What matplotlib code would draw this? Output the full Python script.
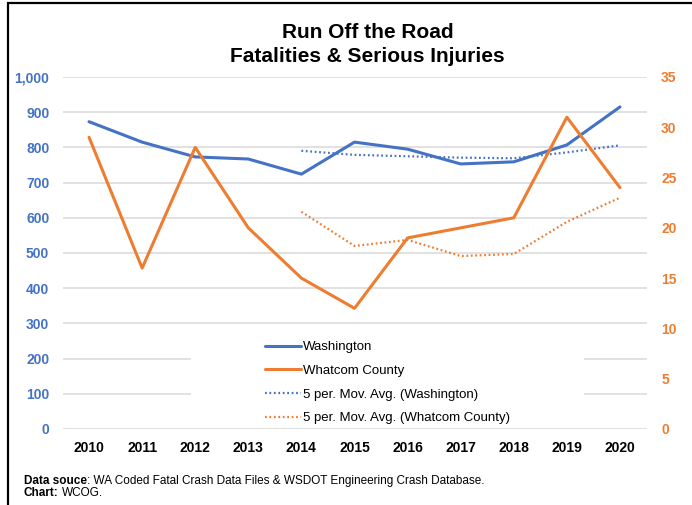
import matplotlib.pyplot as plt
from matplotlib.patches import Rectangle

plt.rcParams['font.family'] = ['Liberation Sans', 'DejaVu Sans']

BLUE = '#4472C4'
ORANGE = '#ED7D31'
GRID = '#D9D9D9'

years = ['2010', '2011', '2012', '2013', '2014', '2015', '2016', '2017', '2018', '2019', '2020']
washington = [873, 815, 773, 767, 724, 815, 795, 753, 759, 807, 915]
whatcom = [29, 16, 28, 20, 15, 12, 19, 20, 21, 31, 24]
# 5 period moving averages, starting at 2014
ma_years = ['2014', '2015', '2016', '2017', '2018', '2019', '2020']
washington_ma = [790.4, 778.8, 774.8, 770.8, 769.2, 785.8, 805.8]
whatcom_ma = [21.6, 18.2, 18.8, 17.2, 17.4, 20.6, 23.0]

left_ticks = [0, 100, 200, 300, 400, 500, 600, 700, 800, 900, 1000]
right_ticks = [0, 5, 10, 15, 20, 25, 30, 35]

fig = plt.figure(figsize=(6.92, 5.05), dpi=100)
ax = fig.add_axes([62.5 / 692, 1 - 429 / 505, 584 / 692, 352 / 505])
ax2 = ax.twinx()

x = list(range(len(years)))
xm = [years.index(y) for y in ma_years]

l1, = ax.plot(x, washington, color=BLUE, lw=2.2, solid_capstyle='round', label='Washington', zorder=3)
l3, = ax.plot(xm, washington_ma, color=BLUE, lw=1.6, linestyle=(0, (0.8, 1.2)), label='5 per. Mov. Avg. (Washington)', zorder=3)
l2, = ax2.plot(x, whatcom, color=ORANGE, lw=2.2, solid_capstyle='round', label='Whatcom County', zorder=3)
l4, = ax2.plot(xm, whatcom_ma, color=ORANGE, lw=1.6, linestyle=(0, (0.8, 1.2)), label='5 per. Mov. Avg. (Whatcom County)', zorder=3)

ax.set_xlim(-0.5, len(years) - 0.5)
ax.set_ylim(0, 1000)
ax2.set_ylim(0, 35)
ax.set_xticks(x)
ax.set_xticklabels(years, fontsize=10, fontweight='bold')
ax.set_yticks(left_ticks)
ax.set_yticklabels(['{:,}'.format(v) for v in left_ticks], fontsize=10, fontweight='bold', color=BLUE)
ax2.set_yticks(right_ticks)
ax2.set_yticklabels([str(v) for v in right_ticks], fontsize=10, fontweight='bold', color=ORANGE)
ax.tick_params(axis='both', length=0)
ax2.tick_params(axis='both', length=0)
ax.tick_params(axis='y', pad=9.5)
ax2.tick_params(axis='y', pad=10.5)
ax.tick_params(axis='x', pad=9)

ax.grid(axis='y', color=GRID, lw=1.1)
ax.set_axisbelow(True)
for a in (ax, ax2):
    for s in a.spines.values():
        s.set_visible(False)

# white legend area covering the gridlines
ax.add_patch(Rectangle((0.22, 0.015), 0.673, 0.24, transform=ax.transAxes,
                       facecolor='white', edgecolor='none', zorder=1.5))

leg = ax2.legend(handles=[l1, l2, l3, l4], loc='upper left', bbox_to_anchor=(0.347, 0.25),
                 frameon=False, fontsize=9.5, handlelength=2.7, handletextpad=0.2,
                 labelspacing=0.87, borderpad=0, borderaxespad=0)

fig.text(367.5 / 692, 1 - 32 / 505, 'Run Off the Road', ha='center', va='center',
         fontsize=15, fontweight='bold')
fig.text(367.5 / 692, 1 - 57 / 505, 'Fatalities & Serious Injuries', ha='center', va='center',
         fontsize=15, fontweight='bold')

t1 = fig.text(24 / 692, 1 - 481 / 505, 'Data souce', fontsize=8.5, fontweight='bold', va='center')
plt.annotate(': WA Coded Fatal Crash Data Files & WSDOT Engineering Crash Database.',
             xy=(1, 0), xycoords=t1, va='bottom', fontsize=8.5)
t2 = fig.text(24 / 692, 1 - 493 / 505, 'Chart:', fontsize=8.5, fontweight='bold', va='center')
plt.annotate('WCOG.', xy=(1, 0), xycoords=t2, xytext=(2.2, 0), textcoords='offset points',
             va='bottom', fontsize=8.5)

fig.patches.append(Rectangle((8 / 692, -0.1), 1.2, 1.1 - 3 / 505, transform=fig.transFigure,
                             fill=False, edgecolor='black', lw=1.6))

fig.savefig('out.png', dpi=100)
